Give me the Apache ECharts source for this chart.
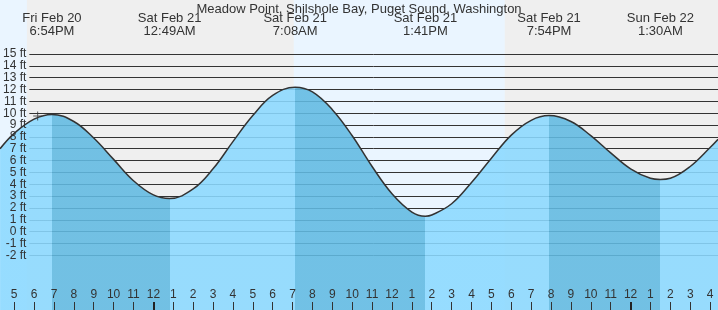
<!DOCTYPE html>
<html>
<head>
<meta charset="utf-8">
<title>Meadow Point tides</title>
<script src="https://cdn.jsdelivr.net/npm/echarts@6/dist/echarts.min.js"></script>
<style>
  html, body { margin: 0; padding: 0; background: #efefef; }
  #chart { width: 718px; height: 310px; }
</style>
</head>
<body>
<div id="chart"></div>
<script>
// time = hours counted from Fri Feb 20 00:00, height in ft
var tideTimes   = [16.29, 17, 18, 18.9, 20, 21, 22, 23, 24, 24.82, 26, 27, 28, 29, 30, 31.13,
                   32, 33, 34, 35, 36, 37, 37.68, 38, 39, 40, 41, 42, 43, 43.9,
                   45, 46, 47, 48, 49, 49.5, 50, 51, 52, 52.4];
var tideHeights = [7.0, 8.3, 9.5, 9.9, 9.3, 7.9, 6.1, 4.3, 3.1, 2.8, 3.6, 5.3, 7.6, 9.8, 11.5, 12.2,
                   11.8, 10.3, 8.1, 5.5, 3.2, 1.65, 1.3, 1.4, 2.35, 4.15, 6.2, 8.15, 9.4, 9.8,
                   9.3, 8.1, 6.65, 5.3, 4.5, 4.4, 4.5, 5.5, 7.1, 7.8];

// high / low tide times shown in the header
var extremeTimes  = [18.9, 24.817, 31.133, 37.683, 43.9, 49.5];
var extremeLabels = ['Fri Feb 20\n6:54PM', 'Sat Feb 21\n12:49AM', 'Sat Feb 21\n7:08AM',
                     'Sat Feb 21\n1:41PM', 'Sat Feb 21\n7:54PM', 'Sun Feb 22\n1:30AM'];

// daylight bands (start / end)
var dayStarts = [16.286, 31.06];
var dayEnds   = [17.64, 41.67];

// hour ticks along the bottom, midnights get a heavy tick
var hourTicks = [];
for (var h = 17; h <= 52; h++) hourTicks.push(h);
var midnightTicks = [24, 48];

// current time cross
var nowPoint = [18.18, 9.77];

var X_MIN = 16.286, X_MAX = 52.397;
var FONT = '"Liberation Sans", Arial, sans-serif';
var RISE = '#8bd9ff', FALL = '#61bae2';

var pieces = [{ lt: extremeTimes[0], color: RISE }];
for (var i = 0; i < extremeTimes.length - 1; i++) {
    pieces.push({ gte: extremeTimes[i], lt: extremeTimes[i + 1], color: i % 2 === 0 ? FALL : RISE });
}
pieces.push({ gte: extremeTimes[extremeTimes.length - 1], color: RISE });

var dayBands = dayStarts.map(function (s, i) {
    return [{ xAxis: s }, { xAxis: dayEnds[i] }];
});

var tideData = tideTimes.map(function (t, i) { return [t, tideHeights[i]]; });

function extremeLabel(v) {
    for (var i = 0; i < extremeTimes.length; i++) {
        if (Math.abs(extremeTimes[i] - v) < 1e-6) return extremeLabels[i];
    }
    return '';
}

var chart = echarts.init(document.getElementById('chart'));
chart.setOption({
    backgroundColor: '#efefef',
    animation: false,
    title: {
        text: 'Meadow Point, Shilshole Bay, Puget Sound, Washington',
        left: 'center',
        top: 3,
        padding: 0,
        textStyle: { fontFamily: FONT, fontSize: 13, fontWeight: 'normal', color: '#333' }
    },
    grid: [
        { left: 0, right: 0, top: 0, bottom: 0 },
        { left: 29, right: 0, top: 54, bottom: 54.7 }
    ],
    visualMap: {
        show: false,
        type: 'piecewise',
        seriesIndex: 1,
        dimension: 0,
        pieces: pieces
    },
    xAxis: [
        {
            gridIndex: 0, type: 'value', min: X_MIN, max: X_MAX, position: 'bottom', z: 4,
            splitLine: { show: false },
            axisLine: { show: false, onZero: false },
            axisTick: { inside: true, length: 8, customValues: hourTicks, lineStyle: { color: '#333' } },
            axisLabel: {
                inside: true, margin: 9, customValues: hourTicks,
                color: '#333', fontSize: 12, fontFamily: FONT,
                formatter: function (v) { return String((Math.round(v) % 12) || 12); }
            }
        },
        { gridIndex: 1, type: 'value', min: X_MIN, max: X_MAX, show: false, axisLine: { onZero: false } },
        {
            gridIndex: 0, type: 'value', min: X_MIN, max: X_MAX, position: 'top', z: 4,
            splitLine: { show: false },
            axisLine: { show: false, onZero: false },
            axisTick: { show: false },
            axisLabel: {
                inside: true, margin: 12, customValues: extremeTimes,
                color: '#333', fontSize: 13, lineHeight: 13, fontFamily: FONT,
                formatter: extremeLabel
            }
        },
        {
            gridIndex: 0, type: 'value', min: X_MIN, max: X_MAX, position: 'bottom', z: 4,
            splitLine: { show: false },
            axisLine: { show: false, onZero: false },
            axisLabel: { show: false },
            axisTick: { inside: true, length: 8, customValues: midnightTicks, lineStyle: { color: '#222', width: 2 } }
        }
    ],
    yAxis: [
        { gridIndex: 0, type: 'value', min: -6.62, max: 19.56, show: false },
        {
            gridIndex: 1, type: 'value', min: -2, max: 15, interval: 1, position: 'left', z: 2,
            axisLine: { show: false }, axisTick: { show: false }, axisLabel: { show: false },
            splitLine: { show: true, lineStyle: { color: '#333', width: 1 } }
        },
        {
            gridIndex: 1, type: 'value', min: -2, max: 15, interval: 1, position: 'left', z: 4,
            axisLine: { show: false }, axisTick: { show: false }, splitLine: { show: false },
            axisLabel: { margin: 3, formatter: '{value} ft', color: '#333', fontSize: 12, fontFamily: FONT }
        }
    ],
    series: [
        {
            // only carries the daylight bands
            type: 'line', xAxisIndex: 0, yAxisIndex: 0, z: 0, data: [],
            showSymbol: false, silent: true,
            markArea: { silent: true, itemStyle: { color: '#eaf5ff' }, data: dayBands }
        },
        {
            type: 'line', xAxisIndex: 0, yAxisIndex: 0, z: 3,
            data: tideData,
            smooth: 0.4,
            showSymbol: false,
            silent: true,
            lineStyle: { color: '#333', width: 1.5 },
            areaStyle: { opacity: 0.88, origin: 'start' }
        },
        {
            type: 'scatter', xAxisIndex: 0, yAxisIndex: 0, z: 5, silent: true,
            data: [nowPoint],
            symbol: 'path://M4,0h1v9h-1zM0,4h9v1h-9z',
            symbolSize: 9,
            itemStyle: { color: '#333' }
        }
    ]
});
</script>
</body>
</html>
